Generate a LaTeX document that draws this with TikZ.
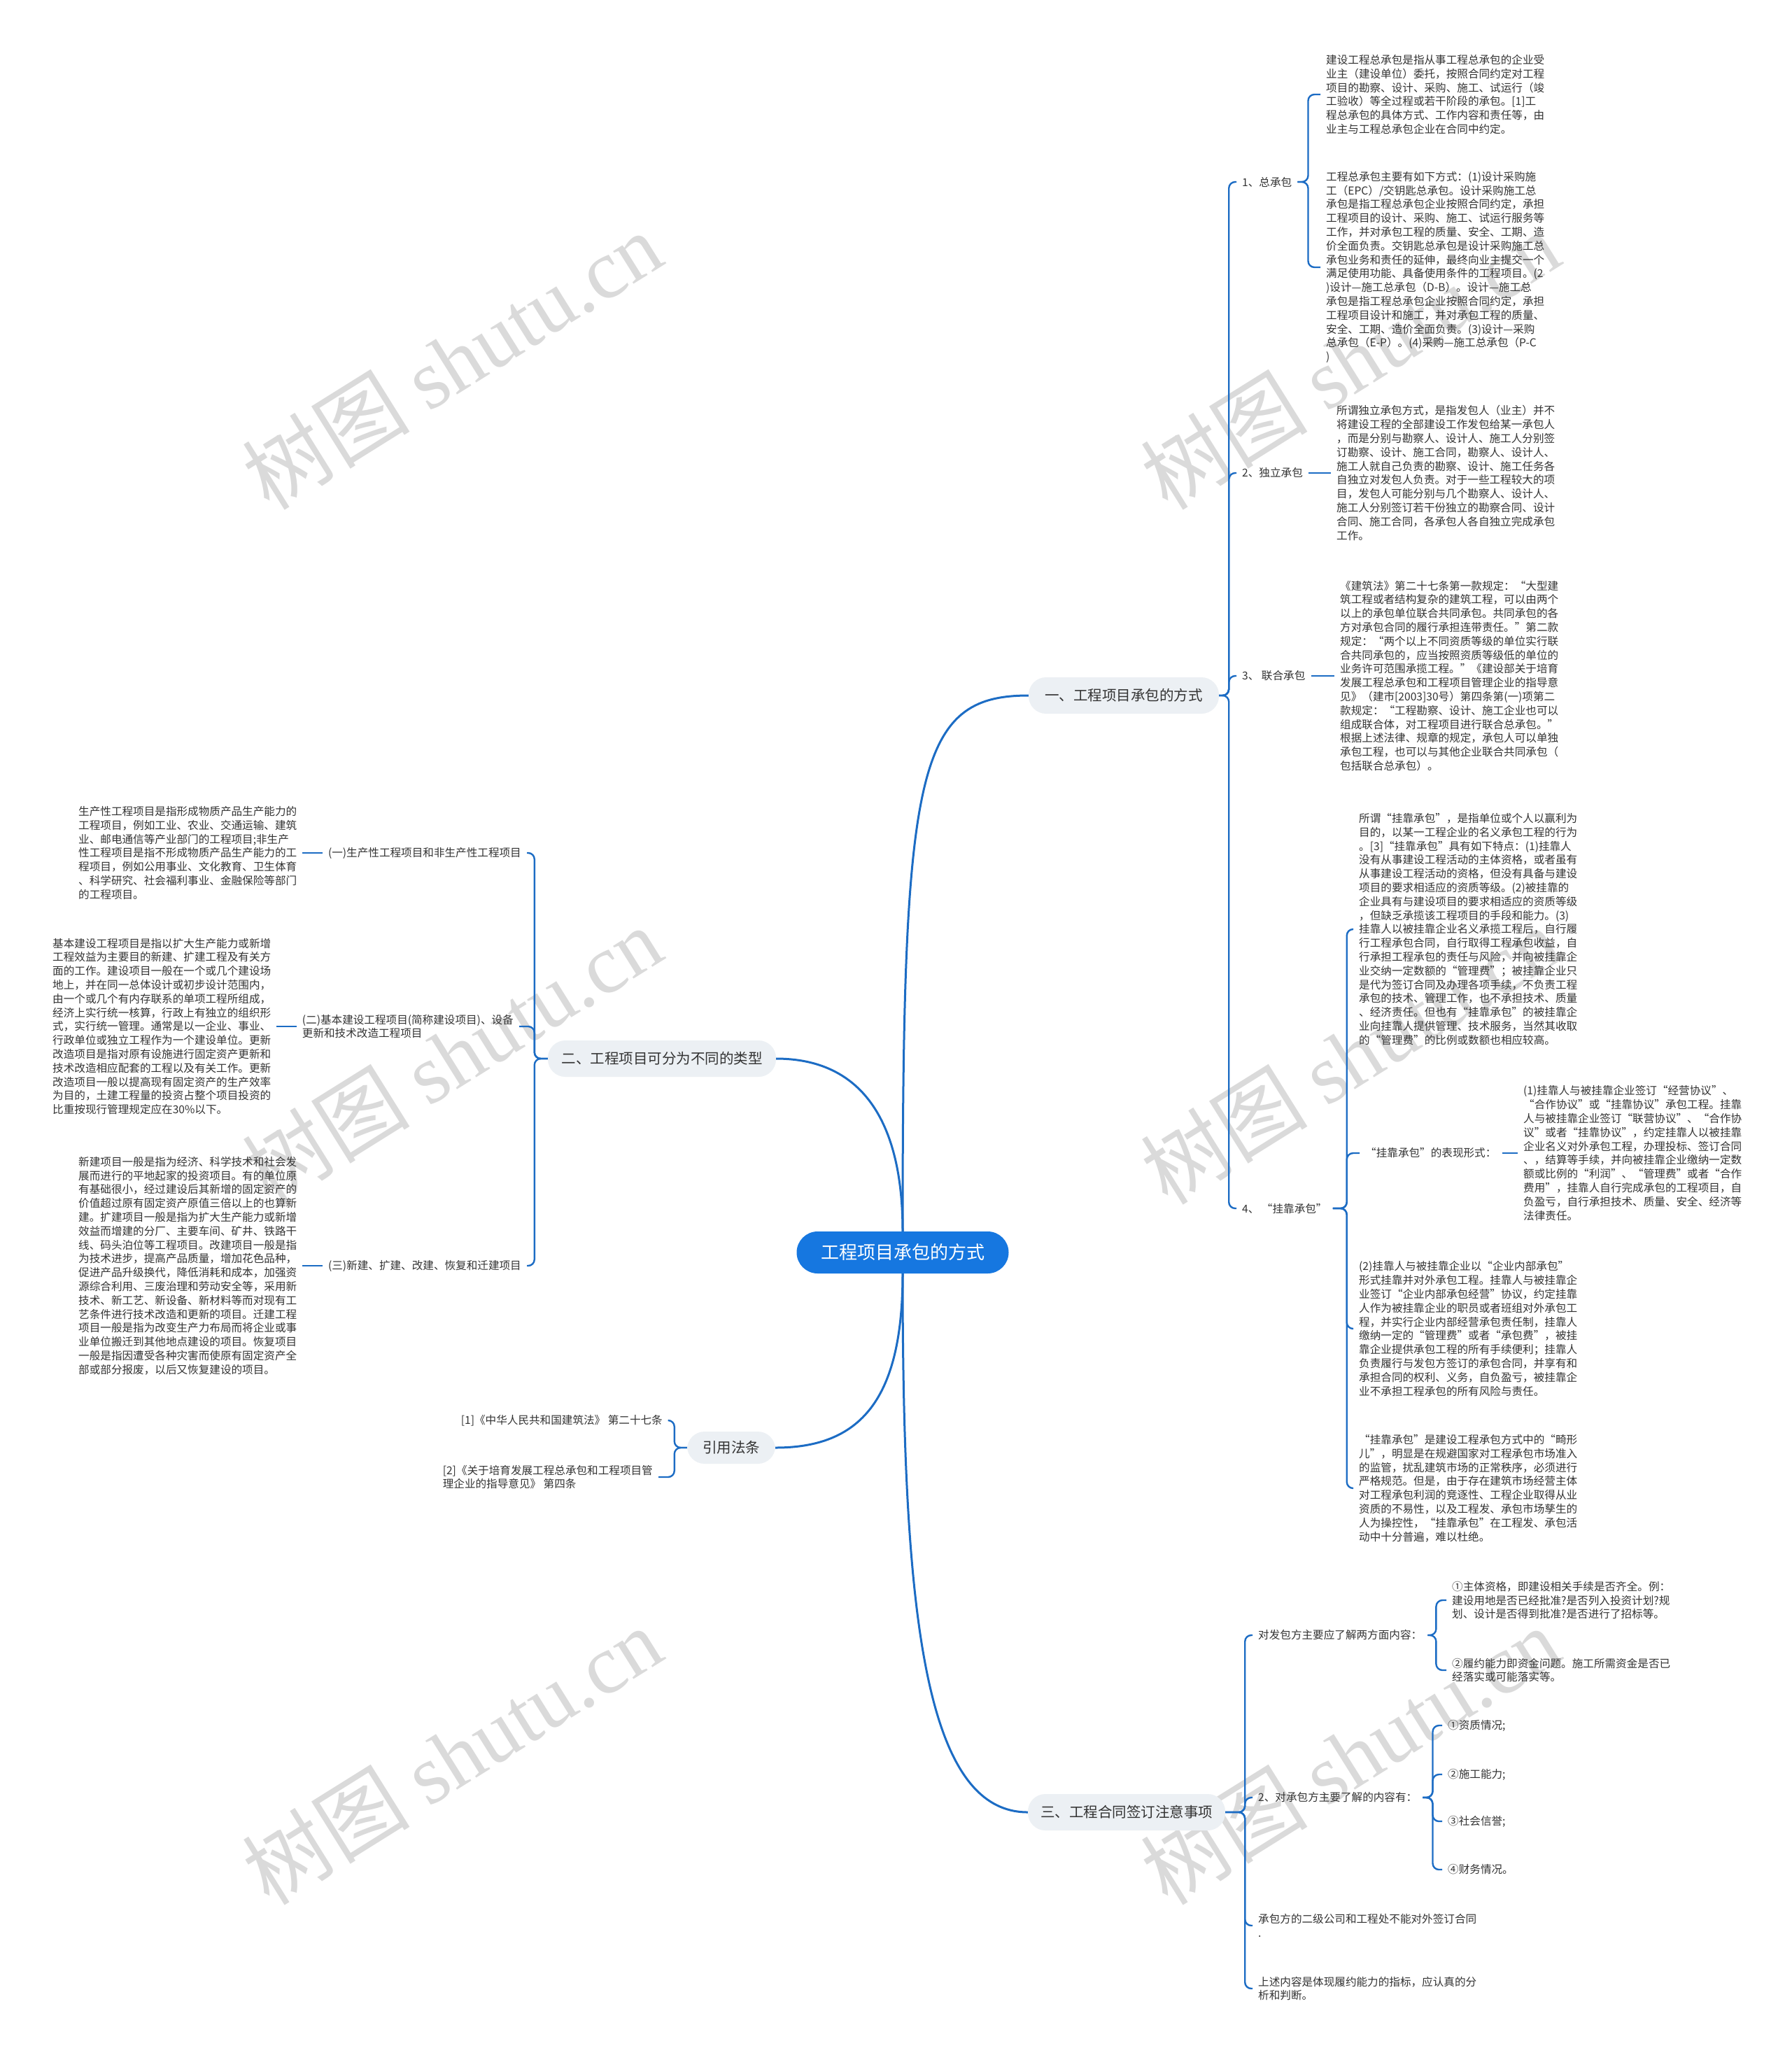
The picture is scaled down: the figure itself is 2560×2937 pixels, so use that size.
\documentclass[tikz,border=0pt]{standalone}
\usepackage{fontspec}
\setmainfont{Noto Sans CJK SC}
\newfontfamily\wmlatin{Liberation Serif}
\definecolor{mainblue}{RGB}{22,119,224}
\definecolor{linec}{RGB}{28,108,196}
\definecolor{topicbg}{RGB}{236,240,244}
\definecolor{txtc}{RGB}{51,51,51}
\definecolor{wmc}{RGB}{218,218,218}
\begin{document}
\begin{tikzpicture}[x=1pt,y=-1pt,
  txt/.style={font=\fontsize{15.6}{19.8}\selectfont, text=txtc, align=left, inner xsep=8pt, inner ysep=2pt},
  mainnode/.style={rounded corners=30pt, fill=mainblue, text=white, font=\fontsize{26}{30}\selectfont, minimum height=60pt, minimum width=303pt},
  topic/.style={rounded corners=25pt, fill=topicbg, text=txtc, font=\fontsize{20.5}{24}\selectfont, minimum height=52pt, inner xsep=18pt},
  br/.style={draw=linec, line width=2.4pt, rounded corners=9pt},
  curve/.style={draw=linec, line width=3pt},
  wm/.style={text=wmc, font=\fontsize{120}{130}\selectfont, rotate=32, inner sep=0pt}
]
\useasboundingbox (0,0) rectangle (2560,2937);
\fill[white] (0,0) rectangle (2560,2937);

% watermarks
\foreach \wx/\wy in {646/515, 646/1508, 646/2509, 1929/515, 1929/1508, 1929/2509}
  \node[wm] at (\wx,\wy) {树图 {\wmlatin shutu.cn}};

% central and main topics
\node[mainnode] (c) at (1290,1790) {工程项目承包的方式};
\node[topic, minimum width=272pt] (n1) at (1606,994) {一、工程项目承包的方式};
\node[topic, minimum width=326pt] (n2) at (946,1513) {二、工程项目可分为不同的类型};
\node[topic, minimum width=126pt, minimum height=46pt] (n3) at (1045,2069) {引用法条};
\node[topic, minimum width=281pt] (n4) at (1610,2590) {三、工程合同签订注意事项};

\draw[curve] (c.north) .. controls (1290,1100) and (1310,994) .. (n1.west);
\draw[curve] (c.north) .. controls (1290,1600) and (1230,1513) .. (n2.east);
\draw[curve] (c.south) .. controls (1290,2000) and (1230,2069) .. (n3.east);
\draw[curve] (c.south) .. controls (1290,2300) and (1320,2590) .. (n4.west);

% section one
\node[txt,anchor=west] (a1) at (1767,260) {1、总承包};
\node[txt,anchor=west] (a2) at (1767,676) {2、独立承包};
\node[txt,anchor=west] (a3) at (1767,966) {3、 联合承包};
\node[txt,anchor=west] (a4) at (1767,1727) {4、 “挂靠承包”};
\foreach \ch in {a1,a2,a3,a4} \draw[br] (n1.east) -- ++(14,0) |- (\ch.west);

\node[txt,anchor=west] (b1) at (1887,135) {建设工程总承包是指从事工程总承包的企业受\\业主（建设单位）委托，按照合同约定对工程\\项目的勘察、设计、采购、施工、试运行（竣\\工验收）等全过程或若干阶段的承包。[1]工\\程总承包的具体方式、工作内容和责任等，由\\业主与工程总承包企业在合同中约定。};
\node[txt,anchor=west] (b2) at (1887,382) {工程总承包主要有如下方式：(1)设计采购施\\工（EPC）/交钥匙总承包。设计采购施工总\\承包是指工程总承包企业按照合同约定，承担\\工程项目的设计、采购、施工、试运行服务等\\工作，并对承包工程的质量、安全、工期、造\\价全面负责。交钥匙总承包是设计采购施工总\\承包业务和责任的延伸，最终向业主提交一个\\满足使用功能、具备使用条件的工程项目。(2\\)设计—施工总承包（D-B）。设计—施工总\\承包是指工程总承包企业按照合同约定，承担\\工程项目设计和施工，并对承包工程的质量、\\安全、工期、造价全面负责。(3)设计—采购\\总承包（E-P）。(4)采购—施工总承包（P-C\\)};
\foreach \ch in {b1,b2} \draw[br] (a1.east) -- ++(15,0) |- (\ch.west);

\node[txt,anchor=west] (b3) at (1902,676) {所谓独立承包方式，是指发包人（业主）并不\\将建设工程的全部建设工作发包给某一承包人\\，而是分别与勘察人、设计人、施工人分别签\\订勘察、设计、施工合同，勘察人、设计人、\\施工人就自己负责的勘察、设计、施工任务各\\自独立对发包人负责。对于一些工程较大的项\\目，发包人可能分别与几个勘察人、设计人、\\施工人分别签订若干份独立的勘察合同、设计\\合同、施工合同，各承包人各自独立完成承包\\工作。};
\draw[br] (a2.east) -- (b3.west);

\node[txt,anchor=west] (b4) at (1907,966) {《建筑法》第二十七条第一款规定：“大型建\\筑工程或者结构复杂的建筑工程，可以由两个\\以上的承包单位联合共同承包。共同承包的各\\方对承包合同的履行承担连带责任。”第二款\\规定：“两个以上不同资质等级的单位实行联\\合共同承包的，应当按照资质等级低的单位的\\业务许可范围承揽工程。”《建设部关于培育\\发展工程总承包和工程项目管理企业的指导意\\见》（建市[2003]30号）第四条第(一)项第二\\款规定：“工程勘察、设计、施工企业也可以\\组成联合体，对工程项目进行联合总承包。”\\根据上述法律、规章的规定，承包人可以单独\\承包工程，也可以与其他企业联合共同承包（\\包括联合总承包）。};
\draw[br] (a3.east) -- (b4.west);

\node[txt,anchor=west] (b5) at (1934,1328) {所谓“挂靠承包”，是指单位或个人以赢利为\\目的，以某一工程企业的名义承包工程的行为\\。[3]“挂靠承包”具有如下特点：(1)挂靠人\\没有从事建设工程活动的主体资格，或者虽有\\从事建设工程活动的资格，但没有具备与建设\\项目的要求相适应的资质等级。(2)被挂靠的\\企业具有与建设项目的要求相适应的资质等级\\，但缺乏承揽该工程项目的手段和能力。(3)\\挂靠人以被挂靠企业名义承揽工程后，自行履\\行工程承包合同，自行取得工程承包收益，自\\行承担工程承包的责任与风险，并向被挂靠企\\业交纳一定数额的“管理费”；被挂靠企业只\\是代为签订合同及办理各项手续，不负责工程\\承包的技术、管理工作，也不承担技术、质量\\、经济责任。但也有“挂靠承包”的被挂靠企\\业向挂靠人提供管理、技术服务，当然其收取\\的“管理费”的比例或数额也相应较高。};
\node[txt,anchor=west] (b6) at (1943,1648) {“挂靠承包”的表现形式：};
\node[txt,anchor=west] (b7) at (1934,1899) {(2)挂靠人与被挂靠企业以“企业内部承包”\\形式挂靠并对外承包工程。挂靠人与被挂靠企\\业签订“企业内部承包经营”协议，约定挂靠\\人作为被挂靠企业的职员或者班组对外承包工\\程，并实行企业内部经营承包责任制，挂靠人\\缴纳一定的“管理费”或者“承包费”，被挂\\靠企业提供承包工程的所有手续便利；挂靠人\\负责履行与发包方签订的承包合同，并享有和\\承担合同的权利、义务，自负盈亏，被挂靠企\\业不承担工程承包的所有风险与责任。};
\node[txt,anchor=west] (b8) at (1934,2127) {“挂靠承包”是建设工程承包方式中的“畸形\\儿”，明显是在规避国家对工程承包市场准入\\的监管，扰乱建筑市场的正常秩序，必须进行\\严格规范。但是，由于存在建筑市场经营主体\\对工程承包利润的竞逐性、工程企业取得从业\\资质的不易性，以及工程发、承包市场孳生的\\人为操控性，“挂靠承包”在工程发、承包活\\动中十分普遍，难以杜绝。};
\foreach \ch in {b5,b6,b7,b8} \draw[br] (a4.east) -- ++(20,0) |- (\ch.west);

\node[txt,anchor=west] (b9) at (2169,1648) {(1)挂靠人与被挂靠企业签订“经营协议”、\\“合作协议”或“挂靠协议”承包工程。挂靠\\人与被挂靠企业签订“联营协议”、“合作协\\议”或者“挂靠协议”，约定挂靠人以被挂靠\\企业名义对外承包工程，办理投标、签订合同\\、，结算等手续，并向被挂靠企业缴纳一定数\\额或比例的“利润”、“管理费”或者“合作\\费用”，挂靠人自行完成承包的工程项目，自\\负盈亏，自行承担技术、质量、安全、经济等\\法律责任。};
\draw[br] (b6.east) -- (b9.west);

% section two
\node[txt,anchor=east] (l1) at (753,1219) {(一)生产性工程项目和非生产性工程项目};
\node[txt,anchor=east] (l2) at (742,1467) {(二)基本建设工程项目(简称建设项目)、设备\\更新和技术改造工程项目};
\node[txt,anchor=east] (l3) at (753,1809) {(三)新建、扩建、改建、恢复和迁建项目};
\foreach \ch in {l1,l2,l3} \draw[br] (n2.west) -- ++(-19,0) |- (\ch.east);

\node[txt,anchor=west] (lb1) at (104,1219) {生产性工程项目是指形成物质产品生产能力的\\工程项目，例如工业、农业、交通运输、建筑\\业、邮电通信等产业部门的工程项目;非生产\\性工程项目是指不形成物质产品生产能力的工\\程项目，例如公用事业、文化教育、卫生体育\\、科学研究、社会福利事业、金融保险等部门\\的工程项目。};
\node[txt,anchor=west] (lb2) at (67,1467) {基本建设工程项目是指以扩大生产能力或新增\\工程效益为主要目的新建、扩建工程及有关方\\面的工作。建设项目一般在一个或几个建设场\\地上，并在同一总体设计或初步设计范围内，\\由一个或几个有内存联系的单项工程所组成，\\经济上实行统一核算，行政上有独立的组织形\\式，实行统一管理。通常是以一企业、事业、\\行政单位或独立工程作为一个建设单位。更新\\改造项目是指对原有设施进行固定资产更新和\\技术改造相应配套的工程以及有关工作。更新\\改造项目一般以提高现有固定资产的生产效率\\为目的，土建工程量的投资占整个项目投资的\\比重按现行管理规定应在30\%以下。};
\node[txt,anchor=west] (lb3) at (104,1809) {新建项目一般是指为经济、科学技术和社会发\\展而进行的平地起家的投资项目。有的单位原\\有基础很小，经过建设后其新增的固定资产的\\价值超过原有固定资产原值三倍以上的也算新\\建。扩建项目一般是指为扩大生产能力或新增\\效益而增建的分厂、主要车间、矿井、铁路干\\线、码头泊位等工程项目。改建项目一般是指\\为技术进步，提高产品质量，增加花色品种，\\促进产品升级换代，降低消耗和成本，加强资\\源综合利用、三废治理和劳动安全等，采用新\\技术、新工艺、新设备、新材料等而对现有工\\艺条件进行技术改造和更新的项目。迁建工程\\项目一般是指为改变生产力布局而将企业或事\\业单位搬迁到其他地点建设的项目。恢复项目\\一般是指因遭受各种灾害而使原有固定资产全\\部或部分报废，以后又恢复建设的项目。};
\draw[br] (l1.west) -- (lb1.east);
\draw[br] (l2.west) -- (lb2.east);
\draw[br] (l3.west) -- (lb3.east);

% references
\node[txt,anchor=east] (r1) at (955,2030) {[1]《中华人民共和国建筑法》 第二十七条};
\node[txt,anchor=east] (r2) at (941,2111) {[2]《关于培育发展工程总承包和工程项目管\\理企业的指导意见》 第四条};
\foreach \ch in {r1,r2} \draw[br] (n3.west) -- ++(-18,0) |- (\ch.east);

% section three
\node[txt,anchor=west] (s1) at (1790,2337) {对发包方主要应了解两方面内容：};
\node[txt,anchor=west] (s2) at (1790,2569) {2、对承包方主要了解的内容有：};
\node[txt,anchor=west] (s3) at (1790,2752) {承包方的二级公司和工程处不能对外签订合同\\.};
\node[txt,anchor=west] (s4) at (1790,2842) {上述内容是体现履约能力的指标，应认真的分\\析和判断。};
\foreach \ch in {s1,s2,s3,s4} \draw[br] (n4.east) -- ++(28,0) |- (\ch.west);

\node[txt,anchor=west] (t1) at (2067,2287) {①主体资格，即建设相关手续是否齐全。例：\\建设用地是否已经批准?是否列入投资计划?规\\划、设计是否得到批准?是否进行了招标等。};
\node[txt,anchor=west] (t2) at (2067,2387) {②履约能力即资金问题。施工所需资金是否已\\经落实或可能落实等。};
\foreach \ch in {t1,t2} \draw[br] (s1.east) -- ++(12,0) |- (\ch.west);

\node[txt,anchor=west] (u1) at (2061,2466) {①资质情况;};
\node[txt,anchor=west] (u2) at (2061,2536) {②施工能力;};
\node[txt,anchor=west] (u3) at (2061,2603) {③社会信誉;};
\node[txt,anchor=west] (u4) at (2061,2672) {④财务情况。};
\foreach \ch in {u1,u2,u3,u4} \draw[br] (s2.east) -- ++(14,0) |- (\ch.west);
\end{tikzpicture}
\end{document}
